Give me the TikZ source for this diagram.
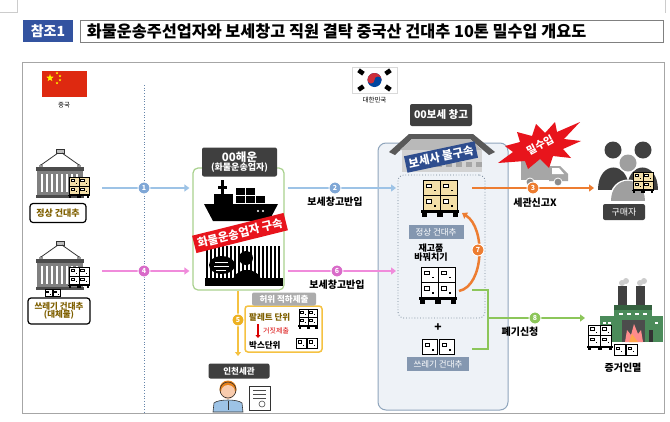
\documentclass[tikz,border=0pt]{standalone}
\usepackage{fontspec}
\setmainfont{Noto Sans CJK KR}
\usetikzlibrary{arrows.meta,shapes.geometric,calc}
\definecolor{titleblue}{HTML}{3353A0}
\definecolor{hdrgray}{HTML}{3F3F3F}
\definecolor{arrblue}{HTML}{9DC3E6}
\definecolor{numblue}{HTML}{7FA7D6}
\definecolor{arrpink}{HTML}{F08BDB}
\definecolor{numpink}{HTML}{D96BC9}
\definecolor{arrorange}{HTML}{ED7D31}
\definecolor{arrgreen}{HTML}{8CC65A}
\definecolor{boxgreen}{HTML}{A9D18E}
\definecolor{arryellow}{HTML}{F5C242}
\definecolor{numyellow}{HTML}{EDB120}
\definecolor{goldtext}{HTML}{7F6000}
\definecolor{whfill}{HTML}{EEF2F7}
\definecolor{whdraw}{HTML}{8FA5BC}
\definecolor{slate}{HTML}{8497B0}
\definecolor{beige}{HTML}{F3DFA8}
\definecolor{stampred}{HTML}{E8141C}
\definecolor{stampblue}{HTML}{2E4D8E}
\definecolor{chinared}{HTML}{DE2910}
\definecolor{krred}{HTML}{CD2E3A}
\definecolor{krblue}{HTML}{0047A0}
\definecolor{factgreen}{HTML}{4B8B5A}
\definecolor{shirtblue}{HTML}{9DC3E6}
\definecolor{skin}{HTML}{F8CBAD}
\newcommand\fsz[1]{\fontsize{#1}{#1}\selectfont}
\newcommand\mypallet[4]{%
\begin{scope}[shift={(#1,#2)},scale=#3]
 \foreach \bx/\by in {2/0,20/0,2/16,20/16}{
   \filldraw[fill=#4,draw=black,line width=0.5pt] (\bx,\by) rectangle ++(18,16);
   \filldraw[fill=white,draw=black,line width=0.4pt] (\bx+3,\by+4) rectangle ++(6,4);
   \fill (\bx+12,\by+10) rectangle ++(2,2);
 }
 \fill (0,32) rectangle (40,35);
 \fill (1,35) rectangle (6,39); \fill (17,35) rectangle (23,39); \fill (34,35) rectangle (39,39);
\end{scope}}
\newcommand\mycontainer[2]{%
\begin{scope}[shift={(#1,#2)}]
 \filldraw[fill=gray!50,draw=black!80,line width=0.6pt] (21,0) rectangle (29,4);
 \draw[black!80,line width=0.8pt] (23,4) -- (6,16) (27,4) -- (44,16);
 \draw[black!80,line width=0.6pt] (6,17) circle (1.5) (44,17) circle (1.5);
 \fill[black!70] (1,18) rectangle (49,22);
 \fill[gray] (2,22) rectangle (48,46);
 \foreach \i in {0,...,7} \fill[white] (6+\i*5,25) rectangle ++(2,18);
 \fill[black!70] (1,46) rectangle (49,49);
\end{scope}}
\newcommand\smallbox[3]{% x y size
 \filldraw[fill=white,draw=black,line width=0.6pt] (#1,#2) rectangle ++(#3,#3);
 \filldraw[fill=white,draw=black,line width=0.4pt] ($(#1,#2)+(0.2*#3,0.25*#3)$) rectangle ++(0.3*#3,0.25*#3);
 \fill ($(#1,#2)+(0.65*#3,0.65*#3)$) rectangle ++(0.12*#3,0.12*#3);}
\begin{document}
\begin{tikzpicture}[x=1pt,y=-1pt,
 hdr/.style={fill=hdrgray,text=white,font=\bfseries\fsz{8.5},rounded corners=2pt,inner sep=1.5pt,align=center},
 lbl/.style={font=\bfseries\fsz{10},align=center,inner sep=0pt},
 numc/.style={circle,fill=#1,draw=white,line width=0.9pt,inner sep=0pt,minimum size=12pt,text=white,font=\bfseries\fsz{7}},
 slab/.style={fill=slate,text=white,font=\fsz{8.5},inner sep=1.5pt,minimum height=14pt},
 flow/.style={line width=2.5pt,-{Triangle[length=5pt,width=7pt]}},
 cbox/.style={draw=black,line width=1.2pt,rounded corners=3pt,fill=white,text=goldtext,font=\bfseries\fsz{9},align=center,inner sep=1.5pt}
]
\useasboundingbox (0,0) rectangle (670,421);
\fill[white] (0,0) rectangle (670,421);
% page corner marks
\draw[gray!40,line width=0.6pt] (0,12) -- (17,12) -- (17,0);
\draw[gray!40,line width=0.6pt] (665,0) -- (665,13);
% title
\node[fill=titleblue,text=white,font=\bfseries\fsz{14},minimum width=50pt,minimum height=22pt,inner sep=0pt] (ref) at (48,31) {참조1};
\node[draw=gray,line width=0.8pt,minimum width=583pt,minimum height=22pt,inner sep=0pt] (title) at (371.5,31) {};
\node[anchor=west,font=\bfseries\fsz{16.3},inner sep=0pt] (titletext) at ($(title.west)+(7,0)$) {화물운송주선업자와 보세창고 직원 결탁 중국산 건대추 10톤 밀수입 개요도};
% frame
\draw[gray!70,line width=0.8pt] (22,62) rectangle (664,413);
\draw[dotted,color=numblue!80!black,line width=0.7pt] (144,85) -- (144,412);
% China flag
\fill[chinared] (42,71) rectangle (87,97);
\node[star,star points=5,star point ratio=2.5,fill=yellow,inner sep=0pt,minimum size=8pt] (cs) at (50,78) {};
\foreach \sx/\sy in {57/73,60/76,60/80,57/83} \node[star,star points=5,star point ratio=2.5,fill=yellow,inner sep=0pt,minimum size=3pt] at (\sx,\sy) {};
\node[font=\fsz{6.5}] (cn) at (64,105) {중국};
% Korea flag
\filldraw[fill=white,draw=gray!30,line width=0.5pt] (352,67) rectangle (397,93);
\fill[krblue] (374.5,80) circle (7);
\fill[krred] (367.5,80) arc[start angle=180,end angle=360,radius=7] -- cycle;
\fill[krred] (371,80) circle (3.5);
\fill[krblue] (378,80) circle (3.5);
\foreach \tx/\ty/\ta in {361/72/-35,388/72/35,361/88/35,388/88/-35}
 \node[fill=black,minimum width=6pt,minimum height=4.5pt,inner sep=0pt,rotate=\ta] at (\tx,\ty) {};
\node[font=\fsz{6.5}] (kr) at (374.5,100) {대한민국};
% container 1 (normal)
\mycontainer{35}{149}
\mypallet{68}{177}{0.55}{beige}
\node[cbox,minimum width=56pt,minimum height=19pt] (c1) at (58,213) {정상 건대추};
% container 2 (garbage)
\mycontainer{35}{241}
\mypallet{68}{267}{0.55}{white}
\smallbox{45}{289}{7}\smallbox{53}{289}{7}
\node[cbox,minimum width=62pt,minimum height=26pt,font=\bfseries\fsz{8.5}] (c2) at (59,311) {쓰레기 건대추\\(대체물)};
% shipping company box
\node[draw=boxgreen,line width=1.2pt,rounded corners=5pt,fill=white,minimum width=91pt,minimum height=122pt,inner sep=0pt] (ship) at (238.5,229) {};
\node[hdr,minimum width=75pt,minimum height=29pt,inner sep=1pt] (shiphdr) at (239.5,162) {{\fsz{11.5}00해운}\\{\fsz{9}(화물운송업자)}};
% ship icon
\fill (221,180) rectangle (224,194);
\fill (218,186) rectangle (227,189);
\fill (214,194) rectangle (233,204);
\foreach \cx/\cy in {236/188,246/188,236/196,246/196,256/196} \fill (\cx,\cy) rectangle ++(9,7);
\fill (204,204) -- (278,204) -- (269,221) -- (213,221) -- cycle;
\fill[white] (258,211) circle (1.1) (263,211) circle (1.1);
% jail icon
\foreach \i in {0,...,18} \fill (206+\i*4,246) rectangle ++(2.2,34);
\fill (222,265) ellipse (13 and 9);
\fill (246,258) circle (7);
\fill (232,285) .. controls (232,265) and (262,265) .. (262,285) -- cycle;
\fill (205,278) rectangle (283,286);
\draw[white,line width=0.5pt] (215,262) -- (228,262) (214,266) -- (229,266) (216,270) -- (226,270);
% red stamp
\node[fill=stampred,text=white,font=\bfseries\fsz{11.5},rotate=14,inner sep=3.5pt] (redstamp) at (240,233) {화물운송업자 구속};
% flows 1,4
\coordinate (a1s) at (102,188); \coordinate (a1e) at (ship.west |- a1s);
\draw[flow,arrblue] (a1s) -- ($(a1e)+(-3,0)$);
\node[numc=numblue] (n1) at (144,188) {1};
\coordinate (a4s) at (102,271); \coordinate (a4e) at (ship.west |- a4s);
\draw[flow,arrpink] (a4s) -- ($(a4e)+(-3,0)$);
\node[numc=numpink] (n4) at (144,271) {4};
% warehouse
\node[hdr,font=\bfseries\fsz{10.5},minimum width=62pt,minimum height=22pt] (whhdr) at (441,115) {00보세 창고};
\node[draw=whdraw,line width=1pt,rounded corners=8pt,fill=whfill,minimum width=130pt,minimum height=267pt,inner sep=0pt] (wh) at (443,276.5) {};
% roof icon
\fill[black!65] (389,152) -- (409,134) -- (473,134) -- (495,152) -- (489,155) -- (470,139) -- (412,139) -- (395,155) -- cycle;
\fill[gray!55] (412,139) -- (470,139) -- (482,150) -- (400,150) -- cycle;
\fill[gray!35] (402,150) rectangle (482,172);
\foreach \i in {0,...,7} \fill[gray!70] (406+\i*10,162) rectangle ++(6,5);
\node[draw=whdraw!80!black,dotted,line width=0.8pt,rounded corners=6pt,fill=whfill,minimum width=87pt,minimum height=143pt,inner sep=0pt] (inner) at (441.5,246.5) {};
\node[fill=stampblue,text=white,font=\bfseries\fsz{11.5},rotate=12,inner sep=3pt] (bluestamp) at (441,157) {보세사 불구속};
% pallets inside
\mypallet{421}{180}{0.95}{beige}
\node[slab,minimum width=55pt] (normlbl) at (436,232) {정상 건대추};
\node[lbl,font=\bfseries\fsz{9}] (swap) at (431,253) {재고품\\바꿔치기};
\mypallet{419}{267}{0.95}{white}
\node[font=\bfseries\fsz{12},inner sep=0pt] (plus) at (438,328) {+};
\smallbox{422}{339}{15}\smallbox{439}{339}{15}
\node[slab,minimum width=62pt] (garblbl) at (438,364) {쓰레기 건대추};
% flows 2,6
\coordinate (a2s) at ($(ship.east |- a1s)+(3,0)$); \coordinate (a2e) at (396,188);
\draw[flow,arrblue] (a2s) -- (a2e);
\node[numc=numblue] (n2) at (335,188) {2};
\node[lbl] (l2) at (335,202) {보세창고반입};
\coordinate (a6s) at ($(ship.east |- a4s)+(3,0)$); \coordinate (a6e) at (396,271);
\draw[flow,arrpink] (a6s) -- (a6e);
\node[numc=numpink] (n6) at (337,271) {6};
\node[lbl] (l6) at (337,285) {보세창고반입};
% flow 7
\coordinate (a7s) at (459,291); \coordinate (a7e) at (462,213);
\draw[line width=2.5pt,arrorange,-{Triangle[length=5pt,width=7pt]}] (a7s) .. controls (484,286) and (486,228) .. (a7e);
\node[numc=arrorange] (n7) at (478,250) {7};
% truck
\fill[gray!70] (521,159) rectangle (549,180);
\fill[gray!70] (549,166) -- (560,166) -- (568,174) -- (568,181) -- (549,181) -- cycle;
\fill[white] (552,168) -- (559,168) -- (564,174) -- (552,174) -- cycle;
\filldraw[fill=gray!90,draw=white,line width=0.8pt] (530,182) circle (4) (558,182) circle (4);
% burst
\fill[stampred] (498,163) -- (513,152) -- (505,146) -- (520,142) -- (517,132) -- (532,136) -- (536,124) -- (545,133) -- (555,122) -- (557,132) -- (580,122) -- (564,139) -- (581,141) -- (563,149) -- (571,158) -- (553,156) -- (549,168) -- (540,159) -- (528,169) -- (525,161) -- cycle;
\node[text=white,font=\bfseries\fsz{10.5},rotate=28,inner sep=0pt] (smug) at (540,145) {밀수입};
% flow 3
\coordinate (a3s) at (472,188); \coordinate (a3e) at (594,188);
\draw[line width=2pt,arrorange,-{Triangle[length=5pt,width=7pt]}] (a3s) -- (a3e);
\node[numc=arrorange] (n3) at (533,188) {3};
\node[lbl] (l3) at (535,203) {세관신고X};
% buyers
\fill[black!75] (613,150) circle (8.5) (643,150) circle (8.5);
\fill[black!75] (598,190) .. controls (598,160) and (629,160) .. (629,190) -- cycle;
\fill[black!75] (627,190) .. controls (627,160) and (658,160) .. (658,190) -- cycle;
\fill[white] (628,163) circle (10);
\fill[gray!75] (628,163) circle (8.5);
\fill[white] (609,202) .. controls (609,172) and (647,172) .. (647,202) -- cycle;
\fill[gray!75] (611,201) .. controls (611,174) and (645,174) .. (645,201) -- cycle;
\mypallet{632}{172}{0.55}{beige}
\node[hdr,font=\fsz{9},minimum width=42pt,minimum height=16pt] (buyer) at (624,212) {구매자};
% flow 8 (green bracket)
\coordinate (g1) at (472,290); \coordinate (g2) at (472,349); \coordinate (gm) at (488,318); \coordinate (a8e) at (585,318);
\draw[arrgreen,line width=1.6pt] (g1) -- (g1 -| gm) -- (g2 -| gm) -- (g2);
\draw[arrgreen,line width=2pt,-{Triangle[length=5pt,width=7pt]}] (gm) -- (a8e);
\node[numc=arrgreen] (n8) at (535,318) {8};
\node[lbl] (l8) at (520,332) {폐기신청};
% factory
\fill[gray!40] (622,283) circle (3) (626,281) circle (3) (640,283) circle (3) (644,281) circle (3);
\fill[black!75] (618,286) rectangle (627,306);
\fill[black!75] (636,286) rectangle (645,306);
\fill[factgreen] (614,305) rectangle (652,342);
\fill[factgreen!70!black] (614,305) rectangle (652,310);
\fill[factgreen] (600,316) rectangle (614,342);
\fill[factgreen] (652,316) rectangle (663,342);
\foreach \wx in {619,627,635,643} \fill[white] (\wx,313) rectangle ++(4,2);
\foreach \wx in {603,608,655} \fill[white] (\wx,322) rectangle ++(3,2);
\fill[black!70] (622,320) rectangle (645,342);
\fill[red!45] (625,342) -- (627,330) -- (631,335) -- (634,324) -- (638,334) -- (641,330) -- (643,342) -- cycle;
\fill[orange!70] (629,342) -- (632,334) -- (635,338) -- (638,342) -- cycle;
\fill[black!80] (649,330) rectangle (653,342);
\mypallet{587}{325}{0.65}{white}
\smallbox{614}{344}{11}\smallbox{626}{344}{11}
\node[lbl] (evid) at (623,368) {증거인멸};
% flow 5
\coordinate (a5s) at (238,291); \coordinate (a5e) at (238,356);
\draw[arryellow,line width=2pt,-{Triangle[length=4pt,width=6pt]}] (a5s) -- (a5e);
\node[numc=numyellow] (n5) at (238,320) {5};
\node[draw=arryellow,line width=1.5pt,rounded corners=3pt,fill=white,minimum width=77pt,minimum height=46pt,inner sep=0pt] (ybox) at (283.5,329) {};
\node[fill=gray!65,text=white,font=\bfseries\fsz{8.5},rounded corners=2pt,minimum width=64pt,minimum height=13pt,inner sep=1pt] (fake) at (284,299) {허위 적하제출};
\node[anchor=west,font=\bfseries\fsz{8.5},text=goldtext,inner sep=0pt] (pal) at (249,317) {팔레트 단위};
\mypallet{298}{309}{0.5}{white}
\draw[red!85!black,line width=2pt,-{Triangle[length=3pt,width=5pt]}] (258,324) -- (258,338);
\node[anchor=west,font=\fsz{7},text=red!85!black,inner sep=0pt] (lie) at (263,331) {거짓제출};
\node[anchor=west,font=\bfseries\fsz{8.5},inner sep=0pt] (boxu) at (249,345) {박스단위};
\smallbox{296}{338}{10}\smallbox{307}{338}{10}
% customs
\node[hdr,font=\bfseries\fsz{8.5},minimum width=61pt,minimum height=15pt] (icn) at (239,371) {인천세관};
\fill[orange!60!brown] (228,389) circle (8.5);
\fill[skin] (228,392) circle (7);
\draw[black!80,line width=0.6pt] (228,390) circle (8);
\filldraw[fill=shirtblue,draw=black!80,line width=0.6pt] (213,412) -- (214,403) .. controls (218,399) and (238,399) .. (242,403) -- (243,412) -- cycle;
\draw[black!80,line width=0.6pt] (228,401) -- (228,410);
\filldraw[fill=white,draw=black!80,line width=0.7pt] (249,386) rectangle (270,410);
\foreach \ly in {390,394,398} \draw[black!70,line width=0.6pt] (253,\ly) -- (266,\ly);
\draw[black!70,line width=0.6pt] (262,404) circle (3);
\end{tikzpicture}
\end{document}
